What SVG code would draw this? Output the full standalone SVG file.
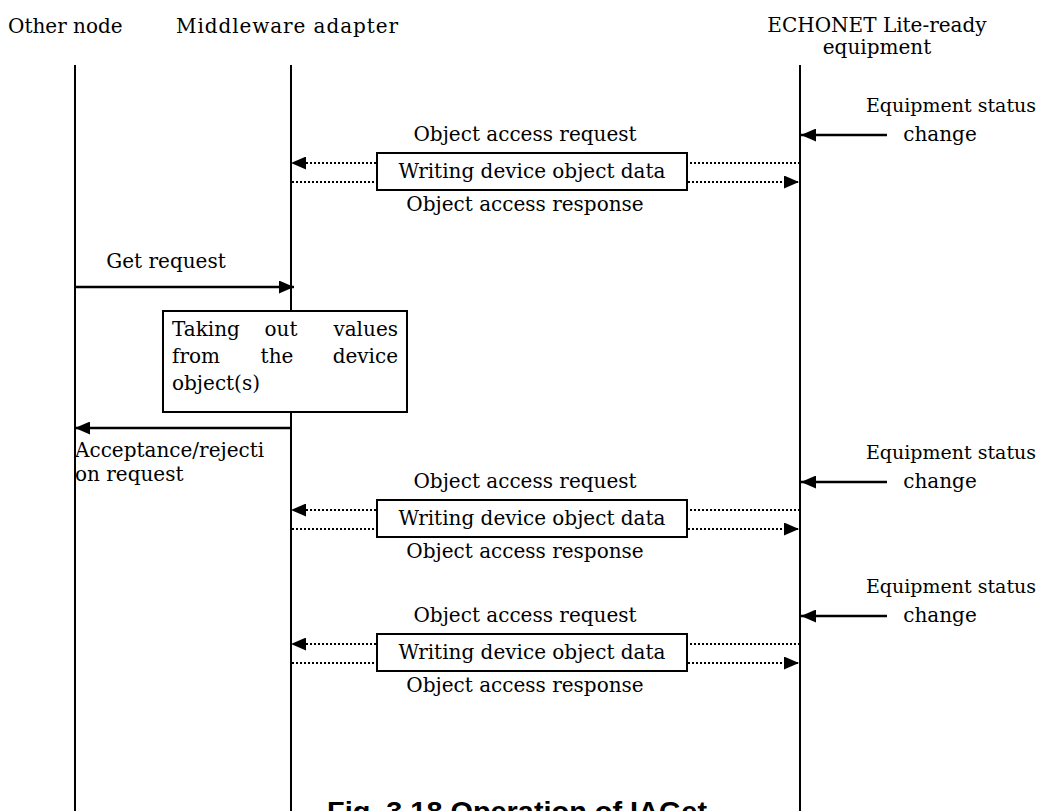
<svg xmlns="http://www.w3.org/2000/svg" width="1045" height="811" viewBox="0 0 1045 811">
<style>
text{font-family:"DejaVu Serif","Liberation Serif",serif;font-size:20px;fill:#000}
.c{text-anchor:middle}
.e{text-anchor:end}
.st{font-size:19px}
.life{stroke:#000;stroke-width:2;fill:none}
.sol{stroke:#000;stroke-width:2.5;fill:none}
.dot{stroke:#000;stroke-width:2;stroke-dasharray:2 2;fill:none}
.box{fill:#fff;stroke:#000;stroke-width:2}
.cap{font-family:"Liberation Sans",Arial,sans-serif;font-weight:bold;font-size:28px}
</style>
<defs>
<marker id="ah" viewBox="0 0 15 13" refX="15" refY="6.5" markerWidth="15" markerHeight="13" markerUnits="userSpaceOnUse" orient="auto">
<path d="M0,0 L15,6.5 L0,13 Z" fill="#000"/>
</marker>
</defs>
<rect width="1045" height="811" fill="#fff"/>
<g id="other-node"><text x="8" y="33">Other node</text><line class="life" x1="75" y1="65" x2="75" y2="811"/></g>
<g id="middleware"><text x="176" y="33" textLength="222" lengthAdjust="spacing">Middleware adapter</text><line class="life" x1="291" y1="65" x2="291" y2="811"/></g>
<g id="equipment"><text class="c" x="877" y="32">ECHONET Lite-ready</text><text class="c" x="877" y="54">equipment</text><line class="life" x1="800" y1="65" x2="800" y2="811"/></g>
<g id="connectors">
<line class="sol" x1="887" y1="135" x2="801" y2="135" marker-end="url(#ah)"/>
<line class="dot" x1="800" y1="163" x2="291" y2="163" marker-end="url(#ah)"/>
<line class="dot" x1="292" y1="182" x2="799" y2="182" marker-end="url(#ah)"/>
<line class="sol" x1="75" y1="287" x2="294" y2="287" marker-end="url(#ah)"/>
<line class="sol" x1="291" y1="428" x2="75" y2="428" marker-end="url(#ah)"/>
<line class="sol" x1="887" y1="482" x2="801" y2="482" marker-end="url(#ah)"/>
<line class="dot" x1="800" y1="510" x2="291" y2="510" marker-end="url(#ah)"/>
<line class="dot" x1="292" y1="529" x2="799" y2="529" marker-end="url(#ah)"/>
<line class="sol" x1="887" y1="616" x2="801" y2="616" marker-end="url(#ah)"/>
<line class="dot" x1="800" y1="644" x2="291" y2="644" marker-end="url(#ah)"/>
<line class="dot" x1="292" y1="663" x2="799" y2="663" marker-end="url(#ah)"/>
</g>
<g id="status1"><text class="st" x="866" y="112">Equipment status</text><text class="c" x="940" y="141">change</text></g>
<g id="write1"><text class="c" x="525" y="141">Object access request</text><rect class="box" x="377" y="153" width="310" height="37"/><text class="c" x="532" y="178">Writing device object data</text><text class="c" x="525" y="211">Object access response</text></g>
<g id="get-request"><text class="c" x="166" y="268">Get request</text></g>
<g id="taking-out"><rect class="box" x="163" y="311" width="244" height="101"/>
<text x="172" y="336">Taking</text><text class="c" x="281" y="336">out</text><text class="e" x="398" y="336">values</text>
<text x="172" y="363">from</text><text class="c" x="277" y="363">the</text><text class="e" x="398" y="363">device</text>
<text x="172" y="390">object(s)</text></g>
<g id="acceptance"><text x="75" y="457">Acceptance/rejecti</text><text x="75" y="481">on request</text></g>
<g id="status2"><text class="st" x="866" y="459">Equipment status</text><text class="c" x="940" y="488">change</text></g>
<g id="write2"><text class="c" x="525" y="488">Object access request</text><rect class="box" x="377" y="500" width="310" height="37"/><text class="c" x="532" y="525">Writing device object data</text><text class="c" x="525" y="558">Object access response</text></g>
<g id="status3"><text class="st" x="866" y="593">Equipment status</text><text class="c" x="940" y="622">change</text></g>
<g id="write3"><text class="c" x="525" y="622">Object access request</text><rect class="box" x="377" y="634" width="310" height="37"/><text class="c" x="532" y="659">Writing device object data</text><text class="c" x="525" y="692">Object access response</text></g>
<g id="caption"><text class="cap" x="327" y="821" textLength="380" lengthAdjust="spacingAndGlyphs">Fig. 3.18 Operation of IAGet</text></g>
</svg>
